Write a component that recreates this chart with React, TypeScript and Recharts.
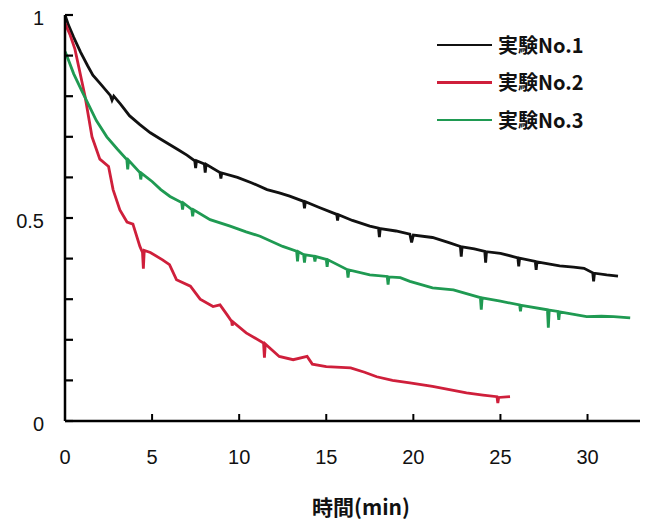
import React from "react";
import { LineChart, Line, XAxis, YAxis } from "recharts";

// time in minutes
const timeNo1 = [0, 0.2, 0.5, 0.9, 1.3, 1.6, 2.0, 2.6, 2.7, 2.8, 3.2, 3.7, 4.3, 4.9, 5.5, 6.0, 6.5, 7.0, 7.45, 7.5, 7.55, 8.0, 8.05, 8.1, 8.9, 8.95, 9.0, 9.9, 10.7, 11.6, 12.3, 12.9, 13.7, 13.75, 13.8, 14.6, 15.6, 15.65, 15.7, 16.5, 17.5, 18.0, 18.05, 18.1, 19.0, 19.8, 19.9, 20.0, 21.1, 22.0, 22.7, 22.75, 22.8, 23.5, 24.1, 24.15, 24.2, 25.0, 26.0, 26.05, 26.1, 27.0, 27.05, 27.1, 28.4, 29.2, 29.8, 30.3, 30.35, 30.4, 31.1, 31.75];
const valueNo1 = [1.0, 0.975, 0.945, 0.908, 0.875, 0.852, 0.832, 0.802, 0.79, 0.8, 0.78, 0.752, 0.73, 0.71, 0.694, 0.681, 0.668, 0.655, 0.641, 0.623, 0.641, 0.633, 0.612, 0.632, 0.612, 0.597, 0.611, 0.6, 0.587, 0.57, 0.562, 0.554, 0.541, 0.524, 0.54, 0.526, 0.509, 0.494, 0.508, 0.494, 0.48, 0.475, 0.453, 0.474, 0.468, 0.46, 0.44, 0.458, 0.452, 0.44, 0.43, 0.405, 0.429, 0.424, 0.418, 0.39, 0.417, 0.413, 0.402, 0.381, 0.401, 0.393, 0.372, 0.392, 0.382, 0.379, 0.376, 0.365, 0.344, 0.364, 0.36, 0.357];

const timeNo2 = [0, 0.3, 0.57, 0.8, 1.15, 1.55, 2.0, 2.5, 2.76, 3.15, 3.56, 3.9, 4.3, 4.45, 4.5, 4.55, 4.9, 5.6, 6.0, 6.4, 7.2, 7.76, 8.5, 8.9, 9.3, 9.57, 9.6, 9.65, 10.4, 11.4, 11.45, 11.5, 12.3, 13.1, 13.9, 14.2, 15.0, 16.4, 17.2, 17.9, 18.8, 19.8, 21.1, 22.0, 23.05, 24.0, 24.8, 24.85, 24.9, 25.55];
const valueNo2 = [0.98, 0.95, 0.916, 0.87, 0.8, 0.7, 0.645, 0.627, 0.57, 0.52, 0.49, 0.485, 0.43, 0.415, 0.375, 0.42, 0.415, 0.397, 0.385, 0.348, 0.332, 0.3, 0.282, 0.286, 0.262, 0.245, 0.235, 0.244, 0.217, 0.192, 0.156, 0.19, 0.159, 0.151, 0.159, 0.14, 0.134, 0.131, 0.12, 0.109, 0.1, 0.094, 0.085, 0.078, 0.069, 0.064, 0.06, 0.044, 0.058, 0.06];

const timeNo3 = [0, 0.1, 0.5, 1.0, 1.4, 1.8, 2.4, 3.0, 3.55, 3.6, 3.65, 4.3, 4.35, 4.4, 5.0, 5.5, 6.03, 6.7, 6.75, 6.8, 7.28, 7.33, 7.38, 8.33, 9.48, 10.4, 11.2, 12.5, 13.3, 13.35, 13.4, 13.7, 13.75, 13.8, 14.3, 14.35, 14.4, 15.0, 15.05, 15.1, 16.2, 16.25, 16.3, 17.5, 18.5, 18.55, 18.6, 19.25, 19.8, 21.1, 22.3, 23.85, 23.9, 23.95, 25.0, 26.1, 26.15, 26.2, 27.7, 27.75, 27.8, 28.3, 28.35, 28.4, 29.95, 30.8, 31.5, 32.45];
const valueNo3 = [0.91, 0.9, 0.855, 0.81, 0.775, 0.74, 0.7, 0.67, 0.644, 0.62, 0.642, 0.612, 0.595, 0.61, 0.59, 0.57, 0.553, 0.538, 0.521, 0.537, 0.521, 0.504, 0.52, 0.496, 0.48, 0.466, 0.455, 0.43, 0.418, 0.393, 0.417, 0.41, 0.39, 0.409, 0.406, 0.393, 0.405, 0.398, 0.38, 0.397, 0.373, 0.353, 0.372, 0.36, 0.356, 0.336, 0.355, 0.353, 0.344, 0.328, 0.323, 0.304, 0.274, 0.303, 0.295, 0.286, 0.27, 0.285, 0.274, 0.23, 0.273, 0.27, 0.249, 0.269, 0.257, 0.258, 0.257, 0.254];

const xTicks = [0, 5, 10, 15, 20, 25, 30];
const yTicks = [0, 0.1, 0.2, 0.3, 0.4, 0.5, 0.6, 0.7, 0.8, 0.9, 1];
const yLabels = ["0", "0.5", "1"];

const seriesNames = ["実験No.1", "実験No.2", "実験No.3"];
const seriesColors = ["#111111", "#cf1f3b", "#1f9a52"];

const toRows = (ts: number[], vs: number[]) => ts.map((t, i) => ({ t, v: vs[i] }));
const series = [toRows(timeNo1, valueNo1), toRows(timeNo2, valueNo2), toRows(timeNo3, valueNo3)];

const tickFont = { fontFamily: "'Liberation Sans', Arial, sans-serif", fontSize: 20, fill: "#111" };

// inward tick marks, labels only at 0 / 0.5 / 1
function YTick(props: any) {
  const { x, y, payload } = props;
  const label = yLabels.find((l) => Number(l) === payload.value);
  return (
    <g>
      <line x1={x} y1={y} x2={x + 8} y2={y} stroke="#000" strokeWidth={2.2} />
      {label && (
        <text x={x - 21} y={y + 3} textAnchor="end" dominantBaseline="central" {...tickFont}>
          {label}
        </text>
      )}
    </g>
  );
}

function XTick(props: any) {
  const { x, y, payload } = props;
  return (
    <g>
      <line x1={x} y1={y} x2={x} y2={y - 7} stroke="#000" strokeWidth={2} />
      <text x={x} y={y + 36} textAnchor="middle" dominantBaseline="central" {...tickFont}>
        {payload.value}
      </text>
    </g>
  );
}

export default function App() {
  // negative top margin cancels the body margin so the "1" label has room
  return (
    <div style={{ position: "relative", width: 640, height: 522, marginTop: -8 }}>
      <LineChart width={640} height={522} margin={{ top: 15, right: 3, left: 0, bottom: 0 }}>
        <XAxis
          type="number"
          dataKey="t"
          domain={[0, 33.3]}
          ticks={xTicks}
          allowDataOverflow
          height={101}
          tickSize={0}
          tickMargin={0}
          tick={<XTick />}
          axisLine={{ stroke: "#000", strokeWidth: 2.5 }}
          label={{
            value: "時間(min)",
            position: "insideBottom",
            offset: 7,
            dx: 6,
            style: { fontFamily: "'Noto Sans CJK JP', sans-serif", fontSize: 21, fontWeight: 700, fill: "#111" },
          }}
        />
        <YAxis
          type="number"
          domain={[0, 1]}
          ticks={yTicks}
          width={57}
          tickSize={0}
          tickMargin={0}
          tick={<YTick />}
          axisLine={{ stroke: "#000", strokeWidth: 2.5 }}
        />
        {series.map((rows, i) => (
          <Line
            key={seriesNames[i]}
            data={rows}
            dataKey="v"
            name={seriesNames[i]}
            type="linear"
            stroke={seriesColors[i]}
            strokeWidth={2.8}
            dot={false}
            isAnimationActive={false}
          />
        ))}
      </LineChart>

      {/* legend, top right inside the plot */}
      <div style={{ position: "absolute", left: 429, top: 26 }}>
        {seriesNames.map((name, i) => (
          <div key={name} style={{ display: "flex", alignItems: "center", height: 37.5 }}>
            <span style={{ width: 55, height: 2.5, background: seriesColors[i], marginRight: 6 }} />
            <span
              style={{
                fontFamily: "'Noto Sans CJK JP', sans-serif",
                fontSize: 20,
                fontWeight: 700,
                lineHeight: "24px",
                color: "#111",
              }}
            >
              {name}
            </span>
          </div>
        ))}
      </div>
    </div>
  );
}
